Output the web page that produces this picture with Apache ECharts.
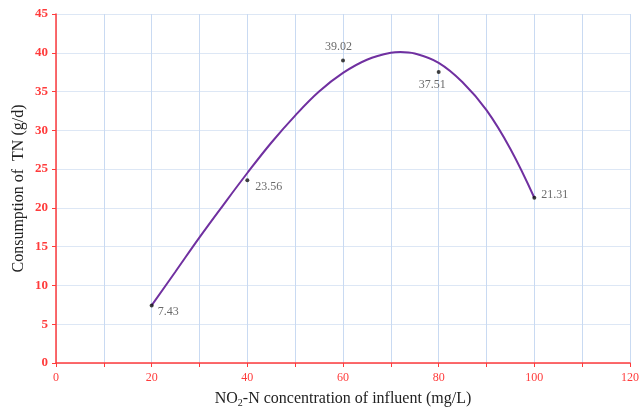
<!DOCTYPE html>
<html>
<head>
<meta charset="utf-8">
<script src="https://cdn.jsdelivr.net/npm/echarts@6/dist/echarts.min.js"></script>
<style>
  html, body { margin: 0; padding: 0; background: #fff; }
  #container { width: 640px; height: 407px; }
</style>
</head>
<body>
<div id="container"></div>
<script>
// measured points
var pointX = [20, 40, 60, 80, 100];
var pointY = [7.43, 23.56, 39.02, 37.51, 21.31];
// trend curve
var curveX = [20, 25, 30, 35, 40, 45, 50, 55, 60, 65, 70, 72, 75, 80, 85, 90, 95, 100];
var curveY = [7.43, 11.8, 16.2, 20.4, 24.5, 28.4, 31.9, 35.0, 37.4, 39.1, 40.0, 40.1, 39.9, 38.7, 36.2, 32.6, 27.6, 21.31];
// label placement for each point
var labelPos = [[4, 6], [6, 7], [-20, -14], [-22, 13], [5, -3]];

var red = "#ff3b3b";
var chart = echarts.init(document.getElementById("container"));

var pts = pointX.map(function(x, i) {
  return {
    value: [x, pointY[i]],
    label: { offset: labelPos[i] }
  };
});

var option = {
  animation: false,
  grid: { left: 56, right: 10, top: 14, bottom: 44, outerBoundsMode: "none" },
  xAxis: {
    type: "value",
    min: 0,
    max: 120,
    interval: 10,
    name: "{a|NO}{s|2}{a|-N concentration of influent (mg/L)}",
    nameLocation: "middle",
    nameGap: 27,
    nameTextStyle: {
      rich: {
        a: { fontFamily: "Liberation Serif", fontSize: 16, color: "#222", lineHeight: 18 },
        s: { fontFamily: "Liberation Serif", fontSize: 10, color: "#222", lineHeight: 18, padding: [8, 0, 0, 0] }
      }
    },
    axisLine: { lineStyle: { color: red, width: 1.5 } },
    axisTick: { show: true, length: 4, lineStyle: { color: red } },
    axisLabel: {
      color: red,
      fontFamily: "Liberation Serif",
      fontSize: 12,
      margin: 9,
      formatter: function(v) { return v % 20 === 0 ? v : ""; }
    },
    splitLine: { lineStyle: { color: "#c9daf2", width: 1 } }
  },
  yAxis: {
    type: "value",
    min: 0,
    max: 45,
    interval: 5,
    name: "Consumption of  TN (g/d)",
    nameLocation: "middle",
    nameGap: 29,
    nameMoveOverlap: false,
    nameTextStyle: { fontFamily: "Liberation Serif", fontSize: 16, color: "#222" },
    axisLine: { show: true, lineStyle: { color: red, width: 1.5 } },
    axisTick: { show: true, length: 4, lineStyle: { color: red } },
    axisLabel: {
      color: red,
      fontFamily: "Liberation Serif",
      fontWeight: "bold",
      fontSize: 13,
      margin: 8
    },
    splitLine: { lineStyle: { color: "#dde7f5", width: 1 } }
  },
  series: [
    {
      type: "line",
      data: curveX.map(function(x, i) { return [x, curveY[i]]; }),
      smooth: 0.4,
      showSymbol: false,
      lineStyle: { color: "#7030a0", width: 2 },
      z: 2
    },
    {
      type: "scatter",
      data: pts,
      symbolSize: 4,
      itemStyle: { color: "#111" },
      label: {
        show: true,
        position: "right",
        distance: 0,
        color: "#444",
        fontFamily: "Liberation Serif",
        fontSize: 12,
        formatter: function(p) { return p.value[1].toFixed(2); }
      },
      z: 3
    }
  ]
};
chart.setOption(option);
</script>
</body>
</html>
